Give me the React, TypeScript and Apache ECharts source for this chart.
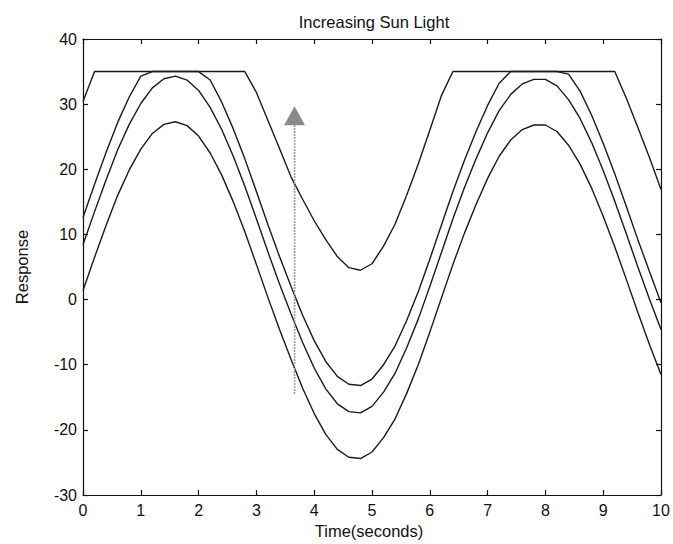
import React, { useEffect, useRef } from "react";
import * as echarts from "echarts";

const title = "Increasing Sun Light";
const xName = "Time(seconds)";
const yName = "Response";

const times = [
  0, 0.2, 0.4, 0.6, 0.8, 1.0, 1.2, 1.4, 1.6, 1.8,
  2.0, 2.2, 2.4, 2.6, 2.8, 3.0, 3.2, 3.4, 3.6, 3.8,
  4.0, 4.2, 4.4, 4.6, 4.8, 5.0, 5.2, 5.4, 5.6, 5.8,
  6.0, 6.2, 6.4, 6.6, 6.8, 7.0, 7.2, 7.4, 7.6, 7.8,
  8.0, 8.2, 8.4, 8.6, 8.8, 9.0, 9.2, 9.4, 9.6, 9.8, 10.0,
];

const response1 = [
  1.4, 6.5, 11.4, 16.0, 19.9, 23.1, 25.5, 26.9, 27.3, 26.7,
  25.1, 22.5, 19.1, 15.0, 10.4, 5.4, 0.3, -4.6, -9.2, -13.6,
  -17.5, -20.7, -23.0, -24.2, -24.4, -23.4, -21.2, -18.3, -14.4, -10.0,
  -5.0, 0.2, 5.4, 10.2, 14.6, 18.6, 22.0, 24.5, 26.1, 26.8,
  26.8, 25.8, 23.7, 20.8, 17.1, 12.8, 8.1, 3.1, -2.0, -6.9, -11.5,
];

const response2 = [
  8.4, 13.5, 18.4, 23.0, 26.9, 30.1, 32.5, 33.9, 34.3, 33.7,
  32.1, 29.5, 26.1, 22.0, 17.4, 12.4, 7.3, 2.4, -2.2, -6.6,
  -10.5, -13.7, -16.0, -17.2, -17.4, -16.4, -14.2, -11.3, -7.4, -3.0,
  2.0, 7.2, 12.4, 17.2, 21.6, 25.6, 29.0, 31.5, 33.1, 33.8,
  33.8, 32.8, 30.7, 27.8, 24.1, 19.8, 15.1, 10.1, 5.0, 0.1, -4.6,
];

const response3 = [
  12.6, 17.7, 22.6, 27.2, 31.1, 34.3, 35, 35, 35, 35,
  35, 33.7, 30.3, 26.2, 21.6, 16.6, 11.5, 6.6, 2.0, -2.4,
  -6.3, -9.5, -11.8, -13.0, -13.2, -12.2, -10.0, -7.1, -3.2, 1.2,
  6.2, 11.4, 16.6, 21.4, 25.8, 29.8, 33.2, 35, 35, 35,
  35, 35, 34.6, 32.0, 28.3, 24.0, 19.3, 14.3, 9.2, 4.3, -0.5,
];

const response4 = [
  30.4, 35, 35, 35, 35, 35, 35, 35, 35, 35,
  35, 35, 35, 35, 35, 31.8, 27.5, 23.2, 18.8, 15.4,
  12.1, 9.2, 6.6, 4.9, 4.5, 5.5, 8.2, 11.6, 16.0, 20.8,
  26.0, 31.3, 35, 35, 35, 35, 35, 35, 35, 35,
  35, 35, 35, 35, 35, 35, 35, 30.9, 26.4, 21.8, 16.9,
];

const arrowTime = 3.66;
const arrowFrom = -14.5;
const arrowHead = 28.2;

export default function App() {
  const ref = useRef<HTMLDivElement>(null);

  useEffect(() => {
    if (!ref.current) return;
    const chart = echarts.init(ref.current, null, { renderer: "svg" });
    const font = "'Liberation Sans', Arial, Helvetica, sans-serif";
    const toPairs = (vals: number[]) => times.map((t, i) => [t, vals[i]]);
    const curveStyle = { color: "#1a1a1a", width: 1.4 };
    const baseX = {
      type: "value" as const,
      min: 0,
      max: 10,
      interval: 1,
      splitLine: { show: false },
      axisLine: { show: true, onZero: false, lineStyle: { color: "#111", width: 1.2 } },
      axisTick: { show: true, inside: true, length: 5, lineStyle: { color: "#111", width: 1.2 } },
    };
    const baseY = {
      type: "value" as const,
      min: -30,
      max: 40,
      interval: 10,
      splitLine: { show: false },
      axisLine: { show: true, onZero: false, lineStyle: { color: "#111", width: 1.2 } },
      axisTick: { show: true, inside: true, length: 5, lineStyle: { color: "#111", width: 1.2 } },
    };
    chart.setOption({
      animation: false,
      backgroundColor: "#ffffff",
      title: {
        text: title,
        left: 369,
        textAlign: "center",
        top: 8,
        textStyle: { fontFamily: font, fontSize: 16.5, fontWeight: "normal", color: "#111" },
      },
      grid: { left: 83, top: 39, width: 578, height: 456, containLabel: false },
      xAxis: [
        {
          ...baseX,
          position: "bottom",
          axisLabel: { show: true, margin: 7, color: "#111", fontFamily: font, fontSize: 16 },
        },
        { ...baseX, position: "top", axisLabel: { show: false } },
      ],
      yAxis: [
        {
          ...baseY,
          position: "left",
          axisLabel: { show: true, margin: 6, color: "#111", fontFamily: font, fontSize: 16 },
        },
        { ...baseY, position: "right", axisLabel: { show: false } },
      ],
      graphic: [
        {
          type: "text",
          x: 369,
          y: 531,
          style: {
            text: xName,
            fontFamily: font,
            fontSize: 16.5,
            fill: "#111",
            align: "center",
            verticalAlign: "middle",
          },
        },
        {
          type: "text",
          x: 22,
          y: 267,
          rotation: Math.PI / 2,
          style: {
            text: yName,
            fontFamily: font,
            fontSize: 16.5,
            fill: "#111",
            align: "center",
            verticalAlign: "middle",
          },
        },
      ],
      series: [
        { type: "line", name: "r1", data: toPairs(response1), symbol: "none", lineStyle: curveStyle, xAxisIndex: 0, yAxisIndex: 0 },
        { type: "line", name: "r2", data: toPairs(response2), symbol: "none", lineStyle: curveStyle, xAxisIndex: 0, yAxisIndex: 0 },
        { type: "line", name: "r3", data: toPairs(response3), symbol: "none", lineStyle: curveStyle, xAxisIndex: 0, yAxisIndex: 0 },
        { type: "line", name: "r4", data: toPairs(response4), symbol: "none", lineStyle: curveStyle, xAxisIndex: 0, yAxisIndex: 0 },
        {
          type: "line",
          name: "arrow",
          xAxisIndex: 0,
          yAxisIndex: 0,
          showSymbol: true,
          lineStyle: { color: "#9a9a9a", width: 1.6, type: [2, 1] },
          itemStyle: { color: "#8a8a8a", borderWidth: 0 },
          data: [
            { value: [arrowTime, arrowFrom], symbol: "none" },
            { value: [arrowTime, arrowHead], symbol: "triangle", symbolSize: [21, 19] },
          ],
        },
      ],
    });
    return () => chart.dispose();
  }, []);

  return (
    <div
      ref={ref}
      style={{ position: "fixed", left: 0, top: 0, width: 673, height: 544, background: "#fff" }}
    />
  );
}
